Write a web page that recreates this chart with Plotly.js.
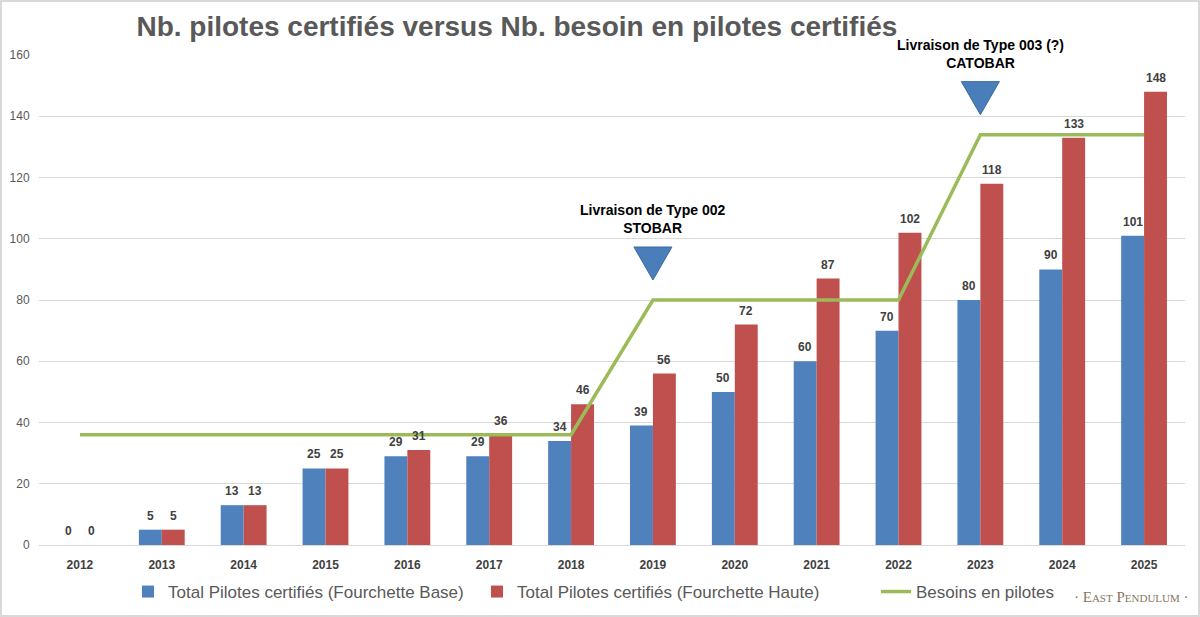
<!DOCTYPE html>
<html>
<head>
<meta charset="utf-8">
<script src="https://cdn.plot.ly/plotly-3.0.1.min.js"></script>
<style>
  html, body { margin: 0; padding: 0; background: #fff; }
  #chart { width: 1200px; height: 617px; }
  #frame { position: fixed; left: 0; top: 0; width: 1200px; height: 617px; box-sizing: border-box;
           border: 2px solid #d9d9d9; pointer-events: none; }
</style>
</head>
<body>
<div id="chart"></div>
<div id="frame"></div>
<script>
// ---- data ----
const years = ['2012','2013','2014','2015','2016','2017','2018','2019','2020','2021','2022','2023','2024','2025'];
const pilotsBase = [0, 5, 13, 25, 29, 29, 34, 39, 50, 60, 70, 80, 90, 101];
const pilotsHigh = [0, 5, 13, 25, 31, 36, 46, 56, 72, 87, 102, 118, 133, 148];
const needs = [36, 36, 36, 36, 36, 36, 36, 80, 80, 80, 80, 134, 134, 134];
const yTicks = [0, 20, 40, 60, 80, 100, 120, 140, 160];
const eventYears = ['2019', '2023'];
const eventLabels = ['Livraison de Type 002<br>STOBAR', 'Livraison de Type 003 (?)<br>CATOBAR'];
const seriesNames = ['Total Pilotes certifiés (Fourchette Base)', 'Total Pilotes certifiés (Fourchette Haute)', 'Besoins en pilotes'];
const titleText = 'Nb. pilotes certifiés versus Nb. besoin en pilotes certifiés';
const watermark = '· East Pendulum ·';

// ---- style ----
const FONT = 'Liberation Sans, Arial, sans-serif';
const BLUE = '#4F81BD', RED = '#C0504D', GREEN = '#9BBB59';
const BARGAP = 0.44;
const barW = (1 - BARGAP) / 2;

const labelFont = { family: FONT, size: 12, color: '#404040', weight: 'bold' };

const traces = [
  { type: 'bar', name: seriesNames[0], x: years, y: pilotsBase, marker: { color: BLUE },
    hoverinfo: 'x+y', legend: 'legend' },
  { type: 'bar', name: seriesNames[1], x: years, y: pilotsHigh, marker: { color: RED },
    hoverinfo: 'x+y', legend: 'legend2' },
  { type: 'scatter', mode: 'lines', name: seriesNames[2], x: years, y: needs,
    line: { color: GREEN, width: 3.5 }, hoverinfo: 'x+y', legend: 'legend3' }
];

const annotations = [];
// value labels above bars
[[pilotsBase, -barW / 2], [pilotsHigh, barW / 2]].forEach(([vals, off]) => {
  vals.forEach((v, i) => annotations.push({
    x: i + off, xref: 'x', y: v, yref: 'y', yshift: 14, text: String(v), showarrow: false,
    xanchor: 'center', yanchor: 'middle', font: labelFont
  }));
});
// event annotations
eventYears.forEach((yr, i) => annotations.push({
  x: years.indexOf(yr), xref: 'x', y: needs[years.indexOf(yr)], yref: 'y', yshift: 81,
  text: eventLabels[i], showarrow: false, xanchor: 'center', yanchor: 'middle',
  font: { family: FONT, size: 14, color: '#000', weight: 'bold' }, align: 'center'
}));
annotations.push({
  x: (1131 - 39) / 1146, xref: 'paper', y: (545 - 597) / 490, yref: 'paper',
  text: watermark, showarrow: false, xanchor: 'center', yanchor: 'middle',
  font: { family: 'Liberation Serif, serif', size: 15, color: '#85765f', variant: 'small-caps' }
});

const shapes = eventYears.map(yr => ({
  type: 'path', xref: 'x', yref: 'y', xsizemode: 'pixel', ysizemode: 'pixel',
  xanchor: years.indexOf(yr), yanchor: needs[years.indexOf(yr)],
  path: 'M -19,53 L 19,53 L 0,20 Z',
  fillcolor: '#4a7ebb', line: { color: '#3b6aa3', width: 1 }, layer: 'above'
}));

const legendBase = { orientation: 'h', xref: 'container', yref: 'container', yanchor: 'middle',
  y: 1 - 592 / 617, bgcolor: 'rgba(0,0,0,0)', font: { family: FONT, size: 17, color: '#595959' } };

const layout = {
  width: 1200, height: 617,
  margin: { l: 39, r: 15, t: 55, b: 72 },
  paper_bgcolor: '#fff', plot_bgcolor: '#fff',
  title: { text: titleText, x: 0.417, xanchor: 'center', y: 1 - 26 / 617, yanchor: 'middle',
    xref: 'paper', yref: 'container',
    font: { family: FONT, size: 28, color: '#595959', weight: 'bold' } },
  barmode: 'group', bargap: BARGAP, bargroupgap: 0,
  xaxis: { type: 'category', range: [-0.5, years.length - 0.5], autorange: false,
    showgrid: false, showline: false, zeroline: false,
    ticks: 'outside', ticklen: 9, tickcolor: 'rgba(0,0,0,0)',
    tickfont: { family: FONT, size: 12, color: '#404040', weight: 'bold' } },
  yaxis: { range: [0, 160], autorange: false, tickvals: yTicks, showgrid: true, gridcolor: '#d9d9d9', gridwidth: 1,
    zeroline: true, zerolinecolor: '#d9d9d9', zerolinewidth: 1, showline: false,
    ticks: 'outside', ticklen: 6, tickcolor: 'rgba(0,0,0,0)',
    tickfont: { family: FONT, size: 12, color: '#595959' } },
  showlegend: true,
  legend: Object.assign({}, legendBase, { x: 128 / 1200 }),
  legend2: Object.assign({}, legendBase, { x: 477 / 1200 }),
  legend3: Object.assign({}, legendBase, { x: 876 / 1200 }),
  annotations: annotations,
  shapes: shapes
};

Plotly.newPlot('chart', traces, layout, { displayModeBar: false, staticPlot: true });
</script>
</body>
</html>
